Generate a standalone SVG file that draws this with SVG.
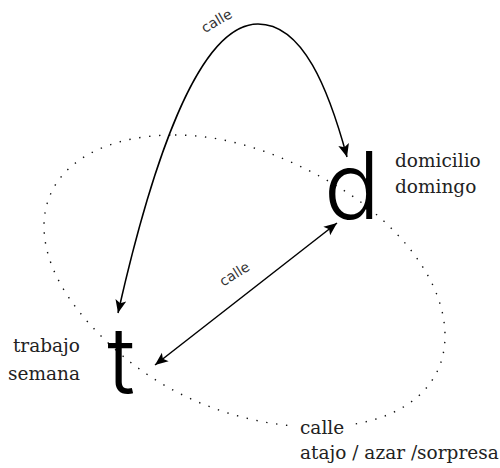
<svg xmlns="http://www.w3.org/2000/svg" width="500" height="468" viewBox="0 0 500 468">
<style>
.big{font-family:Inter,"Open Sans","DejaVu Sans",sans-serif;font-weight:300;font-size:93px;fill:#000}
.lbl{font-family:"DejaVu Serif","Liberation Serif",serif;font-size:18.5px;fill:#222}
.elbl{font-family:"DejaVu Sans","Liberation Sans",sans-serif;font-size:14px;fill:#333}
.arr{fill:none;stroke:#000;stroke-width:1.5}
.dot{fill:none;stroke:#111;stroke-width:1.4;stroke-dasharray:1.4 8.6}
</style>
<defs>
<marker id="ah" viewBox="0 -6 14 12" refX="13" refY="0" markerWidth="14" markerHeight="12" markerUnits="userSpaceOnUse" orient="auto-start-reverse">
<path d="M0,-5.5 L13,0 L0,5.5 L3,0 z" fill="#000"/>
</marker>
</defs>
<g id="connectors">
<path id="loop" class="dot" d="M175,135 C233,135 290.5,157.7 340,188 C391.2,219.3 445,276 445,336 C445,392 395,427 318,427 C249,427 176.9,401.4 124,357 C84.9,324.2 44,277 44,226 C44,170 97,135 175,135 Z"/>
<path id="arc" class="arr" d="M118,313 C151,166.7 198,24 258,24 C303,24 328.7,89.5 347,157" marker-start="url(#ah)" marker-end="url(#ah)"/>
<path id="straight" class="arr" d="M155,365 L337,223" marker-start="url(#ah)" marker-end="url(#ah)"/>
<text class="elbl" text-anchor="middle" transform="translate(219,25) rotate(-30)">calle</text>
<text class="elbl" text-anchor="middle" transform="translate(237,278) rotate(-32)">calle</text>
<g id="loop-label">
<rect x="289" y="413" width="62" height="24" fill="#fff"/>
<text class="lbl" x="300" y="434">calle</text>
<text class="lbl" x="300" y="459">atajo / azar /sorpresa</text>
</g>
</g>
<g id="node-d">
<text class="big" x="352" y="219" text-anchor="middle">d</text>
<text class="lbl" x="395" y="167">domicilio</text>
<text class="lbl" x="395" y="193">domingo</text>
</g>
<g id="node-t">
<text class="big" x="121" y="394" text-anchor="middle">t</text>
<text class="lbl" x="80" y="352" text-anchor="end">trabajo</text>
<text class="lbl" x="80" y="380" text-anchor="end">semana</text>
</g>
</svg>
